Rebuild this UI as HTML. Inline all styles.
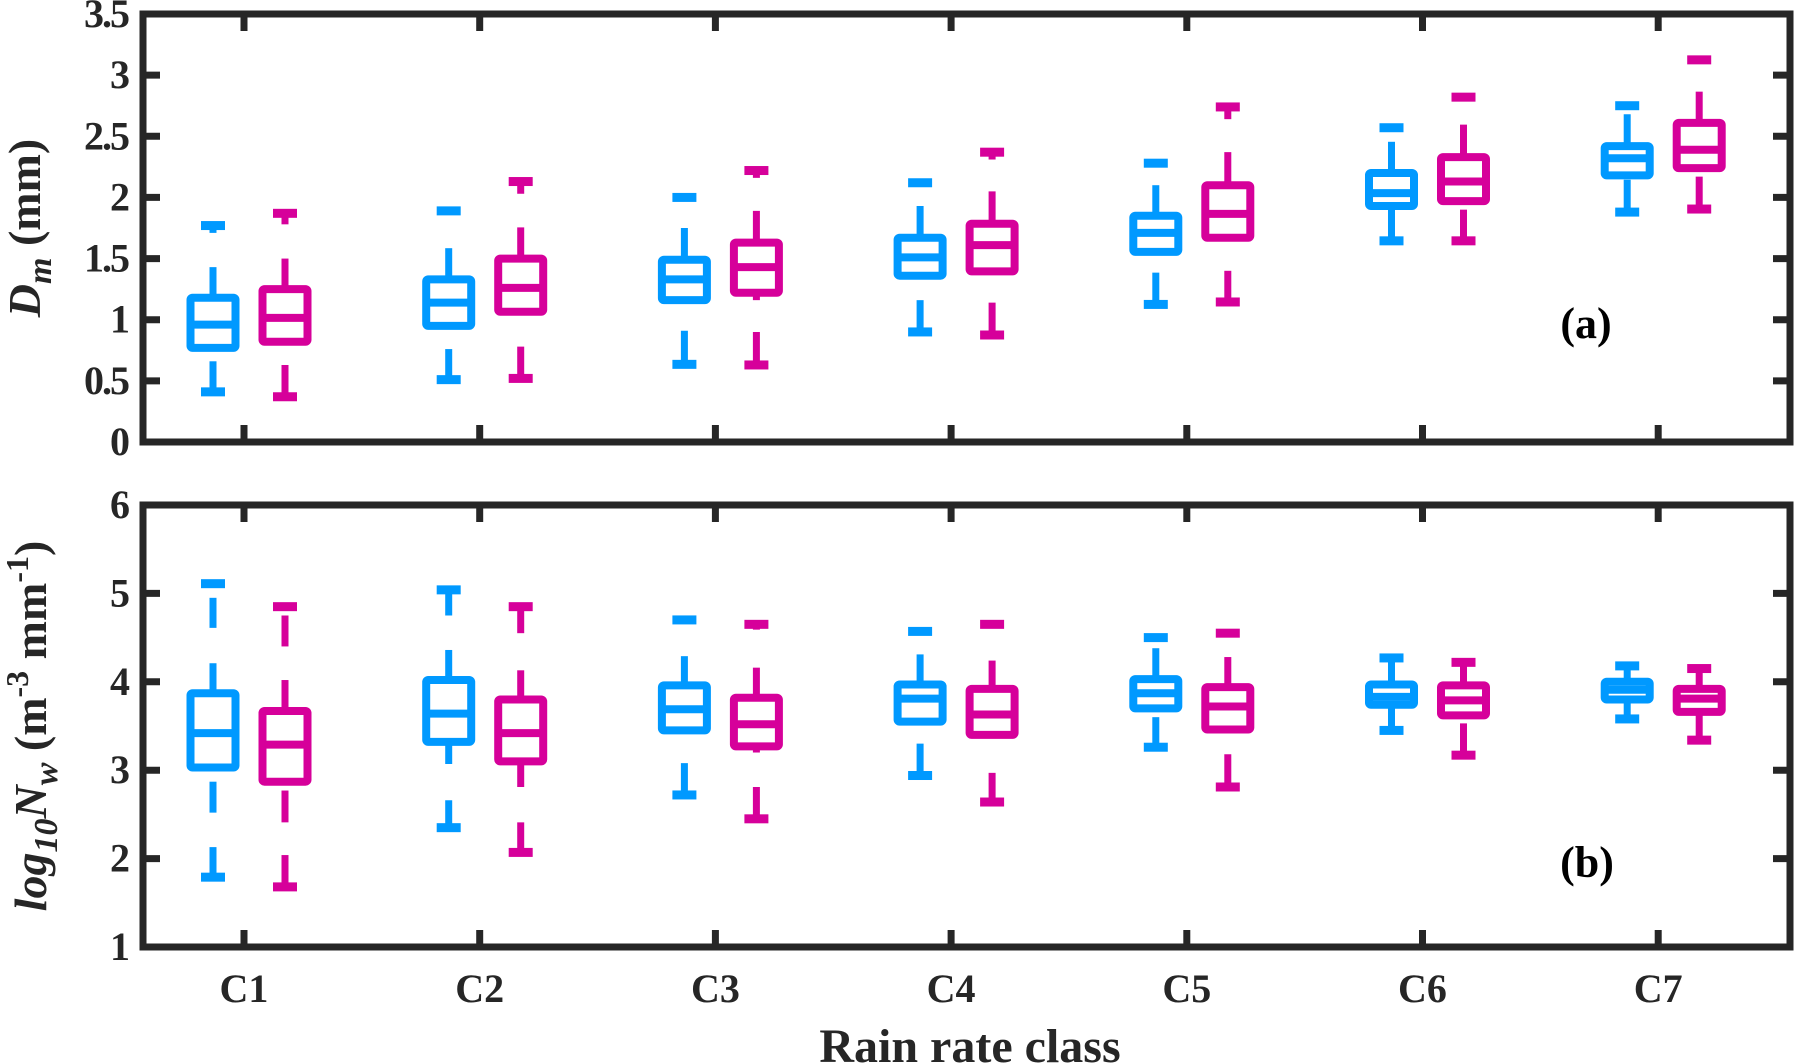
<!DOCTYPE html>
<html><head><meta charset="utf-8">
<style>
html,body{margin:0;padding:0;background:#fff;}
svg{display:block;font-family:"Liberation Serif",serif;}
</style></head>
<body>
<svg id="chart" width="1797" height="1064" viewBox="0 0 1797 1064" xmlns="http://www.w3.org/2000/svg">
  <g id="axes-layer"></g>
  <g id="marks-layer"></g>
  <text transform="translate(40,228) rotate(-90)" text-anchor="middle" font-size="46" font-weight="bold" fill="#262626"><tspan font-style="italic">D</tspan><tspan font-style="italic" font-size="34" dy="11">m</tspan><tspan dy="-11"> (mm)</tspan></text>
  <text transform="translate(46,726) rotate(-90)" text-anchor="middle" font-size="46" font-weight="bold" fill="#262626"><tspan font-style="italic">log</tspan><tspan font-style="italic" font-size="34" dy="11">10</tspan><tspan font-style="italic" dy="-11">N</tspan><tspan font-style="italic" font-size="34" dy="11">w</tspan><tspan dy="-11"> (m</tspan><tspan font-size="32" dy="-18">-3</tspan><tspan dy="18"> mm</tspan><tspan font-size="32" dy="-18">-1</tspan><tspan dy="18">)</tspan></text>
  <text x="1586" y="338" text-anchor="middle" font-size="44" font-weight="bold" fill="#000">(a)</text>
  <text x="1587" y="877" text-anchor="middle" font-size="44" font-weight="bold" fill="#000">(b)</text>
  <text x="970" y="1062" text-anchor="middle" font-size="48" font-weight="bold" fill="#262626">Rain rate class</text>
</svg>
<script>
const categories = ["C1","C2","C3","C4","C5","C6","C7"];
// Panel (a): Dm
const dmTicks = [0,0.5,1,1.5,2,2.5,3,3.5];
const dmTickLabels = ["0","0.5","1","1.5","2","2.5","3","3.5"];
const dmBlueQ1 = [0.77,0.95,1.16,1.36,1.555,1.93,2.18];
const dmBlueMed = [0.96,1.14,1.33,1.51,1.71,2.035,2.32];
const dmBlueQ3 = [1.18,1.33,1.49,1.67,1.85,2.20,2.42];
const dmBlueHi = [[[1.18,1.43],[1.71,1.77]],[[1.33,1.585],[1.89,1.89]],[[1.49,1.75],[2.00,2.00]],[[1.67,1.93],[2.12,2.12]],[[1.85,2.10],[2.28,2.28]],[[2.20,2.455],[2.57,2.57]],[[2.42,2.68],[2.75,2.75]]];
const dmBlueLo = [[[0.66,0.41]],[[0.76,0.51]],[[0.91,0.635]],[[1.16,0.90]],[[1.385,1.125]],[[1.90,1.645]],[[2.145,1.88]]];
const dmMagQ1 = [0.82,1.065,1.22,1.395,1.67,1.97,2.24];
const dmMagMed = [1.015,1.26,1.43,1.61,1.865,2.13,2.39];
const dmMagQ3 = [1.25,1.50,1.63,1.785,2.10,2.33,2.61];
const dmMagHi = [[[1.25,1.50],[1.78,1.87]],[[1.50,1.755],[2.03,2.13]],[[1.63,1.89],[2.16,2.22]],[[1.785,2.05],[2.31,2.37]],[[2.10,2.37],[2.64,2.74]],[[2.33,2.595],[2.82,2.82]],[[2.61,2.865],[3.125,3.125]]];
const dmMagLo = [[[0.63,0.37]],[[0.78,0.52]],[[1.22,1.16],[0.90,0.63]],[[1.14,0.875]],[[1.40,1.145]],[[1.90,1.645]],[[2.17,1.905]]];
// Panel (b): log10 Nw
const nwTicks = [1,2,3,4,5,6];
const nwTickLabels = ["1","2","3","4","5","6"];
const nwBlueQ1 = [3.03,3.32,3.45,3.55,3.70,3.74,3.80];
const nwBlueMed = [3.42,3.64,3.69,3.81,3.87,3.83,3.91];
const nwBlueQ3 = [3.87,4.02,3.96,3.97,4.03,3.97,4.00];
const nwBlueHi = [[[3.87,4.21],[4.61,4.95],[5.11,5.11]],[[4.02,4.36],[4.75,5.04]],[[3.96,4.29],[4.70,4.70]],[[3.97,4.31],[4.57,4.57]],[[4.03,4.38],[4.50,4.50]],[[3.97,4.27]],[[4.00,4.18]]];
const nwBlueLo = [[[2.87,2.52],[2.13,1.79]],[[3.32,3.07],[2.66,2.35]],[[3.08,2.72]],[[3.30,2.94]],[[3.60,3.26]],[[3.74,3.45]],[[3.80,3.58]]];
const nwMagQ1 = [2.87,3.10,3.27,3.40,3.46,3.62,3.66];
const nwMagMed = [3.29,3.42,3.52,3.63,3.72,3.79,3.81];
const nwMagQ3 = [3.67,3.80,3.82,3.92,3.94,3.96,3.92];
const nwMagHi = [[[3.67,4.02],[4.40,4.75],[4.85,4.85]],[[3.80,4.13],[4.55,4.85]],[[3.82,4.16],[4.59,4.65]],[[3.92,4.24],[4.65,4.65]],[[3.94,4.28],[4.55,4.55]],[[3.96,4.22]],[[3.92,4.15]]];
const nwMagLo = [[[2.77,2.41],[2.04,1.68]],[[3.10,2.81],[2.41,2.07]],[[3.27,3.20],[2.81,2.45]],[[2.97,2.64]],[[3.18,2.81]],[[3.53,3.17]],[[3.66,3.34]]];

const NS = "http://www.w3.org/2000/svg";
const X0 = 143, X1 = 1790;
const AX = "#262626", BLUE = "#0099FF", MAG = "#D6009A";
function xScale(i){ return 244 + i * 235.7; }
function mk(tag, attrs, parent){ const e = document.createElementNS(NS, tag); for (const k in attrs) e.setAttribute(k, attrs[k]); parent.appendChild(e); return e; }

const axesLayer = document.getElementById('axes-layer');
const marksLayer = document.getElementById('marks-layer');

function drawPanel(key, top, bottom, ymin, ymax, ticks, tickLabels, series, showX){
  const yScale = v => bottom - (v - ymin) / (ymax - ymin) * (bottom - top);
  const g = mk('g', {}, axesLayer);
  
  
  const frame = mk('rect', {x: X0, y: top, width: X1 - X0, height: bottom - top, fill: 'none', stroke: AX, 'stroke-width': 7}, g);
  
  
  ticks.forEach((t, i) => {
    const y = yScale(t);
    const tl = mk('line', {x1: X0, x2: X0 + 17, y1: y, y2: y, stroke: AX, 'stroke-width': 7}, g);
    
    
    const tr = mk('line', {x1: X1 - 17, x2: X1, y1: y, y2: y, stroke: AX, 'stroke-width': 7}, g);
    
    
    const lab = mk('text', {x: 128, y: y + 13, 'text-anchor': 'end', 'font-size': 40, 'font-weight': 'bold', 'letter-spacing': '-2', fill: AX}, g);
    lab.textContent = tickLabels[i];
    
    
  });
  categories.forEach((c, i) => {
    const x = xScale(i);
    const tb = mk('line', {x1: x, x2: x, y1: bottom, y2: bottom - 17, stroke: AX, 'stroke-width': 7}, g);
    
    
    const tt = mk('line', {x1: x, x2: x, y1: top, y2: top + 17, stroke: AX, 'stroke-width': 7}, g);
    
    
    if (showX) {
      const lab = mk('text', {x: x, y: 1002, 'text-anchor': 'middle', 'font-size': 40, 'font-weight': 'bold', fill: AX}, g);
      lab.textContent = c;
      
      
    }
  });
  series.forEach(s => {
    categories.forEach((c, i) => {
      const cx = xScale(i) + s.off;
      const bg = mk('g', {}, marksLayer);
      
      
      const w = 45;
      const yt = yScale(s.q3[i]), yb = yScale(s.q1[i]);
      const box = mk('rect', {x: cx - w/2, y: yt, width: w, height: yb - yt, fill: 'none', stroke: s.color, 'stroke-width': 8, rx: 2}, bg);
      
      
      const ym = yScale(s.med[i]);
      const med = mk('line', {x1: cx - w/2, x2: cx + w/2, y1: ym, y2: ym, stroke: s.color, 'stroke-width': 8}, bg);
      
      
      [s.hi[i], s.lo[i]].forEach((segs, k) => {
        segs.forEach(seg => {
          const ya = yScale(seg[0]), yb2 = yScale(seg[1]);
          if (Math.abs(ya - yb2) > 0.5) {
            const wl = mk('line', {x1: cx, x2: cx, y1: ya, y2: yb2, stroke: s.color, 'stroke-width': 7}, bg);
            
            
          }
        });
        const capV = segs[segs.length - 1][1];
        const yc = yScale(capV);
        const cap = mk('rect', {x: cx - 12, y: yc - 4.5, width: 24, height: 9, fill: s.color}, bg);
        
        
      });
    });
  });
}

drawPanel('a', 14, 442, 0, 3.5, dmTicks, dmTickLabels, [
  {name: 'blue', color: BLUE, off: -31, q1: dmBlueQ1, med: dmBlueMed, q3: dmBlueQ3, hi: dmBlueHi, lo: dmBlueLo},
  {name: 'magenta', color: MAG, off: 41, q1: dmMagQ1, med: dmMagMed, q3: dmMagQ3, hi: dmMagHi, lo: dmMagLo}
], false);
drawPanel('b', 505, 947, 1, 6, nwTicks, nwTickLabels, [
  {name: 'blue', color: BLUE, off: -31, q1: nwBlueQ1, med: nwBlueMed, q3: nwBlueQ3, hi: nwBlueHi, lo: nwBlueLo},
  {name: 'magenta', color: MAG, off: 41, q1: nwMagQ1, med: nwMagMed, q3: nwMagQ3, hi: nwMagHi, lo: nwMagLo}
], true);
</script>
</body></html>
